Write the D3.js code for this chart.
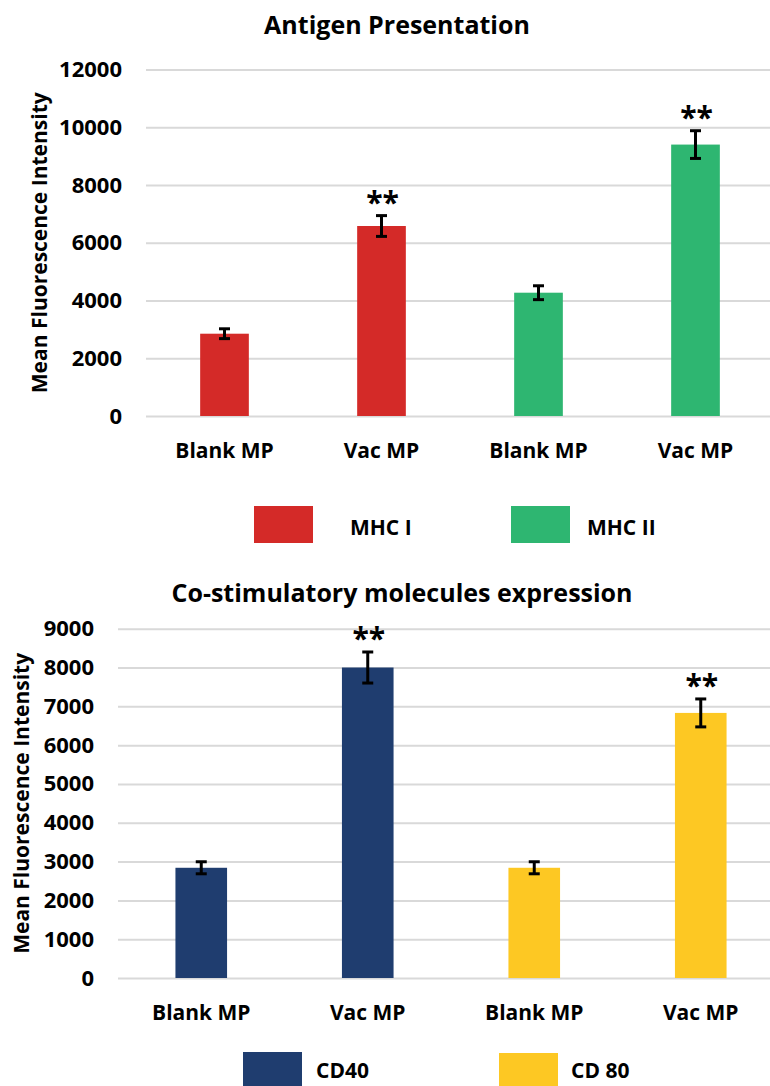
<!DOCTYPE html>
<html>
<head>
<meta charset="utf-8">
<script src="https://cdn.jsdelivr.net/npm/d3@7"></script>
<style>
  html, body { margin: 0; padding: 0; background: #fff; }
  svg { display: block; font-family: "Open Sans", "DejaVu Sans", sans-serif; }
</style>
</head>
<body>
<svg id="chart" width="770" height="1086"></svg>
<script>
// ---- Data -------------------------------------------------------------
const categories = ["Blank MP", "Vac MP", "Blank MP", "Vac MP"];

// Panel 1: antigen presentation (MHC I / MHC II)
const antigenSeries = ["MHC I", "MHC II"];
const antigenColors = ["#D42A28", "#2EB671"];
const antigenMeans = [2850, 6580, 4270, 9400];
const antigenErrors = [170, 360, 240, 480];
const antigenStars = ["", "**", "", "**"];
const antigenTicks = [0, 2000, 4000, 6000, 8000, 10000, 12000];

// Panel 2: co-stimulatory molecules (CD40 / CD 80)
const costimSeries = ["CD40", "CD 80"];
const costimColors = ["#1F3D6F", "#FDC823"];
const costimMeans = [2840, 8000, 2840, 6830];
const costimErrors = [155, 400, 155, 360];
const costimStars = ["", "**", "", "**"];
const costimTicks = [0, 1000, 2000, 3000, 4000, 5000, 6000, 7000, 8000, 9000];

// ---- Drawing ------------------------------------------------------------
const svg = d3.select("#chart");
const FONT = '"Open Sans", "DejaVu Sans", sans-serif';

function drawPanel(cfg) {
  const g = svg.append("g");
  const y = d3.scaleLinear()
    .domain([0, d3.max(cfg.ticks)])
    .range([cfg.bottom, cfg.top]);
  const x = d3.scaleBand()
    .domain(d3.range(cfg.means.length))
    .range([cfg.left, cfg.right])
    .paddingInner(0.69)
    .paddingOuter(0.345);

  // title
  g.append("text")
    .attr("x", cfg.titleX).attr("y", cfg.titleY)
    .attr("text-anchor", "middle")
    .attr("font-family", FONT).attr("font-weight", 700)
    .attr("font-size", 25).attr("fill", "#000")
    .text(cfg.title);

  // gridlines
  const grid = g.append("g")
    .attr("transform", `translate(${cfg.left},0)`)
    .call(d3.axisLeft(y).tickValues(cfg.ticks)
      .tickSize(-(cfg.right - cfg.left)).tickFormat(""));
  grid.select(".domain").remove();
  grid.selectAll(".tick line").attr("stroke", "#d9d9d9").attr("stroke-width", 2);

  // y tick labels
  const yAxis = g.append("g")
    .attr("transform", `translate(${cfg.left},0)`)
    .call(d3.axisLeft(y).tickValues(cfg.ticks).tickSize(0).tickPadding(24)
      .tickFormat(d3.format("d")));
  yAxis.select(".domain").remove();
  yAxis.selectAll("text")
    .attr("font-family", FONT).attr("font-weight", 700)
    .attr("font-size", 22).attr("fill", "#000");

  // y axis title
  g.append("text")
    .attr("transform", `translate(${cfg.yTitleX},${(cfg.top + cfg.bottom) / 2}) rotate(-90)`)
    .attr("text-anchor", "middle")
    .attr("dy", "0.35em")
    .attr("font-family", FONT).attr("font-weight", 700)
    .attr("font-size", 21).attr("fill", "#000")
    .text("Mean Fluorescence Intensity");

  // x category labels
  const xAxis = g.append("g")
    .attr("transform", `translate(0,${cfg.bottom})`)
    .call(d3.axisBottom(x).tickSize(0).tickPadding(27)
      .tickFormat(i => categories[i]));
  xAxis.select(".domain").remove();
  xAxis.selectAll("text")
    .attr("font-family", FONT).attr("font-weight", 700)
    .attr("font-size", 21).attr("fill", "#000");

  // bars
  const seriesOf = i => (i < 2 ? 0 : 1);
  g.append("g").selectAll("rect")
    .data(cfg.means)
    .join("rect")
    .attr("x", (d, i) => x(i))
    .attr("y", d => y(d))
    .attr("width", x.bandwidth())
    .attr("height", d => y(0) - y(d))
    .attr("fill", (d, i) => cfg.colors[seriesOf(i)]);

  // error bars with significance marks above
  const eb = g.append("g").attr("stroke", "#000").attr("stroke-width", 3);
  cfg.means.forEach((m, i) => {
    const cx = x(i) + x.bandwidth() / 2;
    const e = cfg.errors[i];
    const capW = 5.5;
    eb.append("line").attr("x1", cx).attr("x2", cx)
      .attr("y1", y(m + e)).attr("y2", y(m - e));
    eb.append("line").attr("x1", cx - capW).attr("x2", cx + capW)
      .attr("y1", y(m + e)).attr("y2", y(m + e));
    eb.append("line").attr("x1", cx - capW).attr("x2", cx + capW)
      .attr("y1", y(m - e)).attr("y2", y(m - e));
    if (cfg.stars[i]) {
      g.append("text")
        .attr("x", cx + 1).attr("y", y(m + e) - 3)
        .attr("text-anchor", "middle")
        .attr("font-family", FONT).attr("font-weight", 700)
        .attr("font-size", 30).attr("fill", "#000")
        .text(cfg.stars[i]);
    }
  });

  // legend
  const lg = g.append("g");
  cfg.series.forEach((s, k) => {
    const L = cfg.legend[k];
    lg.append("rect")
      .attr("x", L.x).attr("y", L.y)
      .attr("width", 59).attr("height", 37)
      .attr("fill", cfg.colors[k]);
    lg.append("text")
      .attr("x", L.tx).attr("y", L.ty)
      .attr("font-family", FONT).attr("font-weight", 700)
      .attr("font-size", 21).attr("fill", "#000")
      .text(s);
  });
}

drawPanel({
  title: "Antigen Presentation", titleX: 397, titleY: 34,
  left: 146, right: 774, top: 69.5, bottom: 416, yTitleX: 40,
  ticks: antigenTicks, means: antigenMeans, errors: antigenErrors,
  stars: antigenStars, series: antigenSeries, colors: antigenColors,
  legend: [
    { x: 254, y: 506, tx: 350, ty: 535 },
    { x: 511, y: 506, tx: 587, ty: 535 }
  ]
});

drawPanel({
  title: "Co-stimulatory molecules expression", titleX: 402, titleY: 602,
  left: 118, right: 784, top: 628.7, bottom: 978, yTitleX: 22,
  ticks: costimTicks, means: costimMeans, errors: costimErrors,
  stars: costimStars, series: costimSeries, colors: costimColors,
  legend: [
    { x: 243, y: 1052, tx: 316, ty: 1078 },
    { x: 499, y: 1053, tx: 571, ty: 1078 }
  ]
});
</script>
</body>
</html>
